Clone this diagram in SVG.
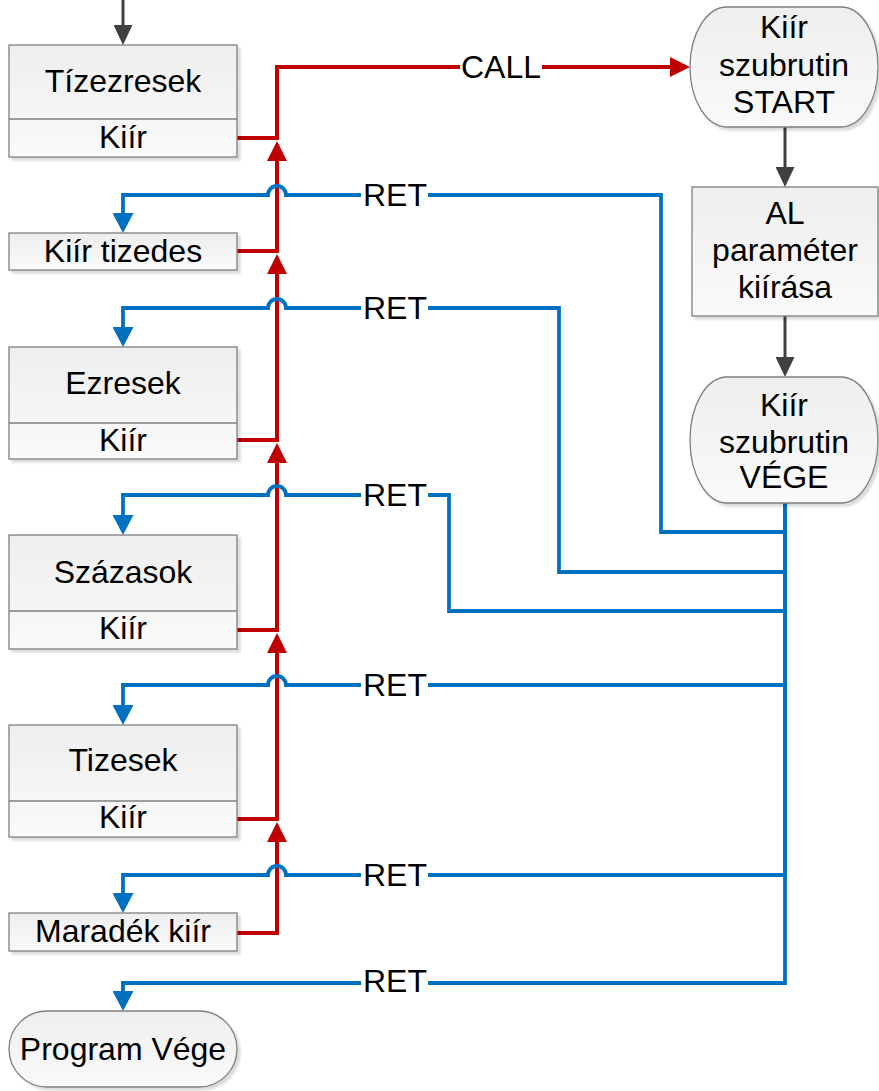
<svg xmlns="http://www.w3.org/2000/svg" width="879" height="1091" viewBox="0 0 879 1091">
  <defs>
    <linearGradient id="boxFill" x1="0" y1="0" x2="0" y2="1">
      <stop offset="0" stop-color="#eeeeee"/>
      <stop offset="1" stop-color="#fafafa"/>
    </linearGradient>
    <filter id="shadow" x="-5%" y="-5%" width="115%" height="120%">
      <feDropShadow dx="3" dy="3" stdDeviation="1" flood-color="#000" flood-opacity="0.14"/>
    </filter>
    <marker id="arrRed" markerUnits="userSpaceOnUse" markerWidth="20" markerHeight="20" viewBox="0 0 20 20" refX="0" refY="10" orient="auto">
      <path d="M0,0 L20,10 L0,20 z" fill="#c00000"/>
    </marker>
    <marker id="arrBlue" markerUnits="userSpaceOnUse" markerWidth="20" markerHeight="21" viewBox="0 0 20 21" refX="0" refY="10.5" orient="auto">
      <path d="M0,0 L20,10.5 L0,21 z" fill="#0070c0"/>
    </marker>
    <marker id="arrGray" markerUnits="userSpaceOnUse" markerWidth="20" markerHeight="19" viewBox="0 0 20 19" refX="0" refY="9.5" orient="auto">
      <path d="M0,0 L20,9.5 L0,19 z" fill="#404040"/>
    </marker>
  </defs>
  <style>
    .box { fill: url(#boxFill); stroke: #7f7f7f; stroke-width: 1.3; filter: url(#shadow); }
    .div { stroke: #7f7f7f; stroke-width: 1.3; }
    .t { font-family: "Liberation Sans", Arial, sans-serif; font-size: 32px; fill: #000; text-anchor: middle; }
    .red { fill: none; stroke: #c00000; stroke-width: 4; marker-end: url(#arrRed); }
    .blue { fill: none; stroke: #0070c0; stroke-width: 3.8; stroke-linejoin: miter; marker-end: url(#arrBlue); }
    .gray { fill: none; stroke: #404040; stroke-width: 3; marker-end: url(#arrGray); }
    .lbl { fill: #fff; }
  </style>

  <rect width="879" height="1091" fill="#fff"/>

  <!-- connectors -->
  <g id="connectors">
    <!-- flow into the first block and through the subroutine -->
    <path class="gray" d="M123,0 V25"/>
    <path class="gray" d="M785,127 V167"/>
    <path class="gray" d="M785,316 V357"/>

    <!-- CALL chain (red) -->
    <path class="red" d="M237,138 H277 V67 H670"/>
    <path class="red" d="M237,251 H277 V161"/>
    <path class="red" d="M237,440 H277 V274"/>
    <path class="red" d="M237,630 H277 V463"/>
    <path class="red" d="M237,819 H277 V653"/>
    <path class="red" d="M237,933 H277 V842"/>

    <!-- RET chain (blue), hops over the red line at x=277 -->
    <path class="blue" d="M785,503 V532 H661 V195 H286 A9,9 0 0 0 268,195 H123 V213"/>
    <path class="blue" d="M785,503 V572 H559 V308 H286 A9,9 0 0 0 268,308 H123 V327"/>
    <path class="blue" d="M785,503 V611 H449 V495 H286 A9,9 0 0 0 268,495 H123 V515"/>
    <path class="blue" d="M785,503 V685 H286 A9,9 0 0 0 268,685 H123 V705"/>
    <path class="blue" d="M785,503 V875 H286 A9,9 0 0 0 268,875 H123 V893"/>
    <path class="blue" d="M785,503 V983 H123 V991"/>

    <!-- labels -->
    <rect class="lbl" x="460" y="52" width="82" height="30"/>
    <text class="t" x="501" y="78">CALL</text>
    <rect class="lbl" x="361" y="180" width="67" height="30"/>
    <text class="t" x="395" y="206">RET</text>
    <rect class="lbl" x="361" y="293" width="67" height="30"/>
    <text class="t" x="395" y="319">RET</text>
    <rect class="lbl" x="361" y="480" width="67" height="30"/>
    <text class="t" x="395" y="506">RET</text>
    <rect class="lbl" x="361" y="670" width="67" height="30"/>
    <text class="t" x="395" y="696">RET</text>
    <rect class="lbl" x="361" y="860" width="67" height="30"/>
    <text class="t" x="395" y="886">RET</text>
    <rect class="lbl" x="361" y="966" width="67" height="30"/>
    <text class="t" x="395" y="992">RET</text>
  </g>

  <!-- main program blocks -->
  <g id="tizezresek">
    <rect class="box" x="9" y="45" width="228" height="112"/>
    <line class="div" x1="9" y1="119" x2="237" y2="119"/>
    <text class="t" x="123" y="92">Tízezresek</text>
    <text class="t" x="123" y="148">Kiír</text>
  </g>
  <g id="kiir-tizedes">
    <rect class="box" x="9" y="233" width="228" height="37"/>
    <text class="t" x="123" y="262">Kiír tizedes</text>
  </g>
  <g id="ezresek">
    <rect class="box" x="9" y="347" width="228" height="112"/>
    <line class="div" x1="9" y1="423" x2="237" y2="423"/>
    <text class="t" x="123" y="394">Ezresek</text>
    <text class="t" x="123" y="451">Kiír</text>
  </g>
  <g id="szazasok">
    <rect class="box" x="9" y="535" width="228" height="114"/>
    <line class="div" x1="9" y1="611" x2="237" y2="611"/>
    <text class="t" x="123" y="583">Százasok</text>
    <text class="t" x="123" y="639">Kiír</text>
  </g>
  <g id="tizesek">
    <rect class="box" x="9" y="725" width="228" height="112"/>
    <line class="div" x1="9" y1="801" x2="237" y2="801"/>
    <text class="t" x="123" y="771">Tizesek</text>
    <text class="t" x="123" y="828">Kiír</text>
  </g>
  <g id="maradek-kiir">
    <rect class="box" x="9" y="913" width="228" height="38"/>
    <text class="t" x="123" y="942">Maradék kiír</text>
  </g>
  <g id="program-vege">
    <rect class="box" x="9" y="1011" width="228" height="76" rx="38" ry="38"/>
    <text class="t" x="123" y="1060">Program Vége</text>
  </g>

  <!-- subroutine -->
  <g id="kiir-start">
    <rect class="box" x="690" y="7" width="188" height="120" rx="37" ry="60"/>
    <text class="t" x="784" y="38">Kiír</text>
    <text class="t" x="784" y="76">szubrutin</text>
    <text class="t" x="784" y="113">START</text>
  </g>
  <g id="al-kiirasa">
    <rect class="box" x="692" y="187" width="186" height="129"/>
    <text class="t" x="785" y="224">AL</text>
    <text class="t" x="785" y="261">paraméter</text>
    <text class="t" x="785" y="298">kiírása</text>
  </g>
  <g id="kiir-vege">
    <rect class="box" x="690" y="377" width="188" height="126" rx="37" ry="63"/>
    <text class="t" x="784" y="416">Kiír</text>
    <text class="t" x="784" y="453">szubrutin</text>
    <text class="t" x="784" y="488">VÉGE</text>
  </g>
</svg>
